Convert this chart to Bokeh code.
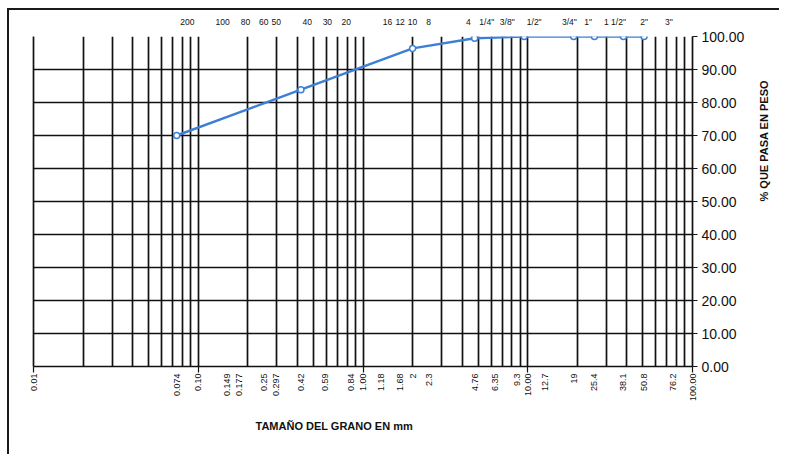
import math
from bokeh.plotting import figure
from bokeh.models import (FixedTicker, LinearAxis, LogAxis, Range1d, Title,
                          NumeralTickFormatter, CustomJSTickFormatter)
from bokeh.embed import file_html
from bokeh.resources import INLINE

# ---------------- data ----------------
sieve_mm = [0.074, 0.42, 2.0, 4.76, 9.525, 19.0, 25.4, 38.1, 50.8]
pct_passing = [70.0, 83.9, 96.4, 99.5, 100.0, 100.0, 100.0, 100.0, 100.0]

bottom_values = [0.01, 0.074, 0.10, 0.149, 0.177, 0.25, 0.297, 0.42, 0.59, 0.84, 1.00,
                 1.18, 1.68, 2.0, 2.3, 4.76, 6.35, 9.3, 10.0, 12.7, 19.0, 25.4, 38.1,
                 50.8, 76.2, 100.0]
bottom_labels = ["0.01", "0.074", "0.10", "0.149", "0.177", "0.25", "0.297", "0.42",
                 "0.59", "0.84", "1.00", "1.18", "1.68", "2", "2.3", "4.76", "6.35",
                 "9.3", "10.00", "12.7", "19", "25.4", "38.1", "50.8", "76.2", "100.00"]

top_values = [0.074, 0.149, 0.177, 0.25, 0.297, 0.42, 0.59, 0.84, 1.18, 1.68, 2.0,
              2.36, 4.76, 6.35, 9.525, 12.7, 19.0, 25.4, 38.1, 50.8, 76.2]
top_labels = ["200", "100", "80", "60", "50", "40", "30", "20", "16", "12", "10", "8",
              "4", '1/4"', '3/8"', '1/2"', '3/4"', '1"', '1 1/2"', '2"', '3"']

y_ticks = [0, 10, 20, 30, 40, 50, 60, 70, 80, 90, 100]
decades = [0.01, 0.1, 1.0, 10.0, 100.0]

# ---------------- style ----------------
FONT = "Liberation Sans"
BLUE = "#3d7fd6"
INK = "#111111"
# horizontal label nudges (in en-space units) to follow the printed layout
top_shift = [5, -2, 3, 0, 0, 3, 1, -2, 6, 0, 0, 2, -3, -4, -8, -5, -2, -3, -4, 0, -2]
# sideways nudges of the vertical mm labels (-1 left, +1 right, half a line)
bottom_shift = [0, 0, 0, 0, 0, 0, 0, 0, 0, 0, 0, 1, 0, 0, 1, 0, 0, -1, 0, 0, 0, 0, 0, 0, 0, 0]

EN = "\u2002"


def pad_h(txt, k):
    return EN * k + txt if k > 0 else txt + EN * (-k)


def pad_v(txt, k):
    return "\n" + txt if k > 0 else (txt + "\n" if k < 0 else txt)


top_text = [pad_h(t, k) for t, k in zip(top_labels, top_shift)]
bottom_text = [pad_v(t, k) for t, k in zip(bottom_labels, bottom_shift)]

minor = [m * d for d in decades[:-1] for m in range(2, 10)]

MAP_CODE = """
let best = -1, bd = 1e9;
for (let i = 0; i < vals.length; i++) {
  const d = Math.abs(Math.log10(vals[i]) - Math.log10(tick));
  if (d < bd) { bd = d; best = i; }
}
return (best >= 0 && bd < 1e-4) ? labs[best] : '';
"""
BLANK = CustomJSTickFormatter(code="return ''")

p = figure(width=770, height=446, x_axis_type="log",
           x_range=Range1d(0.01, 100), y_range=Range1d(0, 100),
           y_axis_location="right", output_backend="svg", toolbar_location=None,
           min_border_left=24, min_border_top=26, min_border_right=83,
           min_border_bottom=90)
p.outline_line_color = None
p.background_fill_color = "white"
p.border_fill_color = "white"
p.styles = {"margin-left": "9px", "margin-top": "8px",
            "border-top": "2px solid #1a1a1a",
            "box-shadow": "-2px 0 0 0 #1a1a1a"}

# grid
p.xgrid.ticker = FixedTicker(ticks=decades, minor_ticks=minor)
p.xgrid.grid_line_color = INK
p.xgrid.grid_line_width = 1.7
p.xgrid.minor_grid_line_color = INK
p.xgrid.minor_grid_line_width = 1.7
p.ygrid.ticker = FixedTicker(ticks=y_ticks[1:-1])
p.ygrid.grid_line_color = INK
p.ygrid.grid_line_width = 1.7

# bottom axis 1: only decade tick marks (the 0 % line)
p.xaxis.ticker = FixedTicker(ticks=decades)
p.xaxis.formatter = BLANK
p.xaxis.major_label_text_font_size = "0px"
p.xaxis.major_tick_out = 6
p.xaxis.major_tick_in = 0
p.xaxis.minor_tick_line_color = None
p.xaxis.axis_line_color = INK
p.xaxis.axis_line_width = 1.7
p.xaxis.major_tick_line_color = INK
p.xaxis.major_tick_line_width = 1.2
p.xaxis.major_label_standoff = 0

# bottom axis 2: grain size labels (mm), vertical
mm_axis = LogAxis(ticker=FixedTicker(ticks=bottom_values),
                  formatter=CustomJSTickFormatter(args=dict(vals=bottom_values, labs=bottom_text),
                                                  code=MAP_CODE),
                  major_label_orientation=math.pi / 2,
                  major_label_text_font=FONT, major_label_text_font_size="9px",
                  major_label_text_color=INK, major_label_standoff=1,
                  major_tick_line_color=None, minor_tick_line_color=None,
                  major_tick_out=0, major_tick_in=0, axis_line_color=None)
p.add_layout(mm_axis, "below")

# x title
p.add_layout(Title(text="TAMAÑO DEL GRANO EN mm", align="left", offset=222,
                   text_font=FONT, text_font_size="11px", text_font_style="bold",
                   text_color=INK, standoff=27), "below")

# top axis: sieve numbers
sieve_axis = LogAxis(ticker=FixedTicker(ticks=top_values),
                     formatter=CustomJSTickFormatter(args=dict(vals=top_values, labs=top_text),
                                                     code=MAP_CODE),
                     major_label_text_font=FONT, major_label_text_font_size="8.5px",
                     major_label_text_color=INK, major_label_standoff=10,
                     major_tick_line_color=None, minor_tick_line_color=None,
                     major_tick_out=0, major_tick_in=0, axis_line_color=None)
p.add_layout(sieve_axis, "above")

# right axis (% passing)
ya = p.yaxis[0]
ya.ticker = FixedTicker(ticks=y_ticks)
ya.formatter = NumeralTickFormatter(format="0.00")
ya.major_label_text_font = FONT
ya.major_label_text_font_size = "14px"
ya.major_label_text_color = INK
ya.major_tick_out = 5
ya.major_tick_in = 0
ya.minor_tick_line_color = None
ya.axis_line_color = INK
ya.axis_line_width = 1.7
ya.major_tick_line_color = INK
ya.major_label_standoff = 4
ya.axis_label = "% QUE PASA EN PESO"
ya.axis_label_text_font = FONT
ya.axis_label_text_font_size = "11px"
ya.axis_label_text_font_style = "bold"
ya.axis_label_text_color = INK
ya.axis_label_standoff = 17
if hasattr(ya, "axis_label_orientation"):
    ya.axis_label_orientation = math.pi / 2

# left border line of the grid
left_axis = LinearAxis(axis_line_color=INK, axis_line_width=1.7,
                       major_tick_line_color=None, minor_tick_line_color=None,
                       formatter=BLANK, major_label_text_font_size="0px",
                       major_label_standoff=0)
p.add_layout(left_axis, "left")

# curve
p.line(sieve_mm, pct_passing, line_color=BLUE, line_width=2.5)
p.scatter(sieve_mm, pct_passing, marker="circle", size=6, fill_color="white",
          line_color=BLUE, line_width=1.5)

open("out.html", "w").write(file_html(p, INLINE))
